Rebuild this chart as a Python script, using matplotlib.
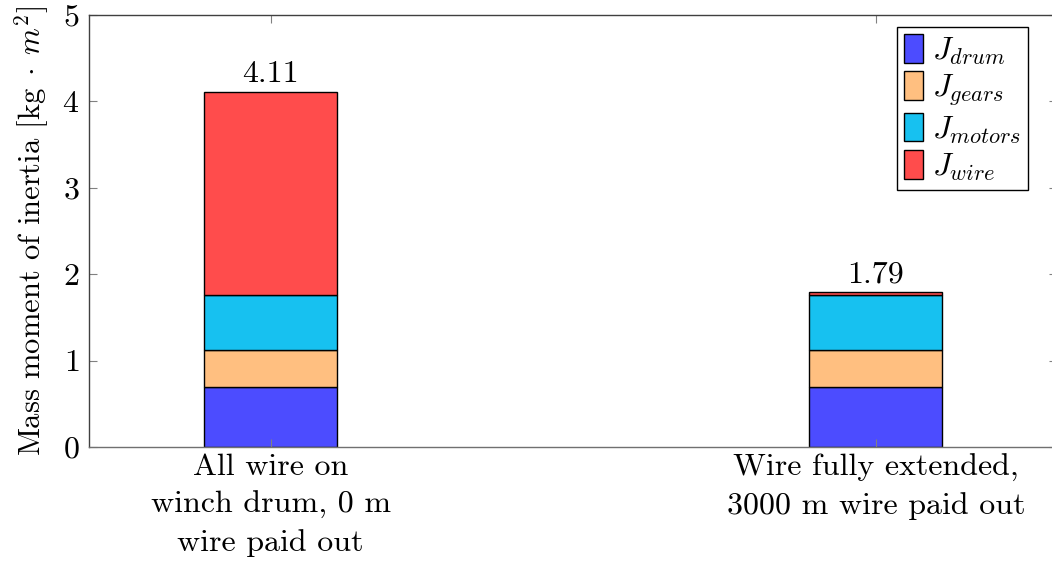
"""Stacked bar chart of winch mass moment of inertia"""

import matplotlib
matplotlib.use('Agg')
import matplotlib.pyplot as plt
import numpy as np

plt.rcParams['font.family'] = 'cmr10'
plt.rcParams['mathtext.fontset'] = 'cm'
plt.rcParams['axes.unicode_minus'] = False
plt.rcParams['axes.formatter.use_mathtext'] = True

# data
cases = ['All wire on\nwinch drum, 0 m\nwire paid out',
         'Wire fully extended,\n3000 m wire paid out']
j_drum = [0.70, 0.70]
j_gears = [0.42, 0.42]
j_motors = [0.64, 0.64]
j_wire = [2.35, 0.03]
totals = ['4.11', '1.79']

series = [('$J_{drum}$', j_drum, '#4c4cff'),
          ('$J_{gears}$', j_gears, '#ffbf80'),
          ('$J_{motors}$', j_motors, '#17c1f0'),
          ('$J_{wire}$', j_wire, '#ff4c4c')]

FS = 23


def main():
    fig = plt.figure(figsize=(10.52, 5.73), dpi=100)
    ax = fig.add_axes([0.0846, 0.2199, 0.9205, 0.7539])

    x = np.arange(len(cases))
    bottom = np.zeros(len(cases))
    for label, vals, col in series:
        ax.bar(x, vals, 0.22, bottom=bottom, color=col, edgecolor='black',
               linewidth=1.0, label=label)
        bottom += np.array(vals)

    # totals on top of bars
    for xi, top, txt in zip(x, bottom, totals):
        ax.annotate(txt, (xi, top), xytext=(0, 3), textcoords='offset points',
                    ha='center', va='bottom', fontsize=FS)

    ax.set_xlim(-0.3, 1.3)
    ax.set_ylim(0, 5)
    ax.set_xticks(x)
    ax.set_xticklabels(cases, fontsize=FS, linespacing=1.45)
    ax.set_yticks(range(6))
    ax.tick_params(axis='y', labelsize=FS)
    ax.tick_params(direction='in', color='gray', length=6, top=True, right=True)
    ax.tick_params(axis='x', pad=5)
    ax.tick_params(axis='y', pad=7)
    ax.set_ylabel(r'Mass moment of inertia [kg$\;\cdot\;m^2$]', fontsize=22,
                  labelpad=8)

    for s in ax.spines.values():
        s.set_color('#404040')
        s.set_linewidth(1.0)
    ax.spines['bottom'].set_color('#707070')

    leg = ax.legend(loc='upper right', bbox_to_anchor=(0.977, 0.953),
                    bbox_transform=fig.transFigure, fontsize=23,
                    fancybox=False, edgecolor='black', framealpha=1,
                    handlelength=0.6, handleheight=1.0, handletextpad=0.3,
                    labelspacing=0.15, borderpad=0.22, borderaxespad=0)
    leg.get_frame().set_linewidth(1.0)

    plt.savefig('out.png', dpi=100)


if __name__ == "__main__":
    main()
